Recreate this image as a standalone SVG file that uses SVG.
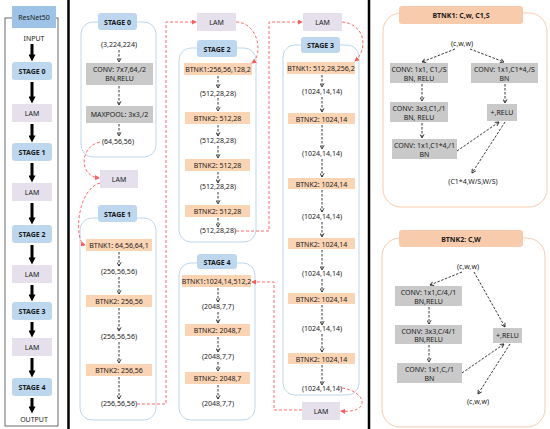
<svg xmlns="http://www.w3.org/2000/svg" width="550" height="429" viewBox="0 0 550 429">
<style>
text{font-family:"Noto Sans","Open Sans","Liberation Sans",sans-serif;font-size:7px;fill:#1a1a1a;text-anchor:middle}
.b{font-weight:bold}
.blue{fill:#bdd7ee}
.lam{fill:#e5e0ec}
.or{fill:#fbd4b4}
.gr{fill:#c9c9c9}
.cont{fill:#fff;stroke:#bdd7ee;stroke-width:1}
.ocont{fill:#fff;stroke:#f8cbad;stroke-width:1}
.da{fill:none;stroke:#222;stroke-width:0.9;stroke-dasharray:2.5,1.5;marker-end:url(#mda)}
.rda{fill:none;stroke:#ff5a5a;stroke-width:0.9;stroke-dasharray:3,2;marker-end:url(#mr)}
.th{fill:none;stroke:#000;stroke-width:3;marker-end:url(#mt)}
</style>
<defs>
<marker id="mda" viewBox="0 0 6 6" refX="5" refY="3" markerWidth="5" markerHeight="5" orient="auto" markerUnits="userSpaceOnUse"><path d="M0.5,0.5 L5,3 L0.5,5.5" fill="none" stroke="#222" stroke-width="1"/></marker>
<marker id="mr" viewBox="0 0 6 6" refX="5" refY="3" markerWidth="5" markerHeight="5" orient="auto" markerUnits="userSpaceOnUse"><path d="M0,0 L6,3 L0,6 z" fill="#ff5a5a"/></marker>
<marker id="mt" viewBox="0 0 6 6" refX="3" refY="3" markerWidth="8" markerHeight="7" orient="auto" markerUnits="userSpaceOnUse"><path d="M0,0 L6,3 L0,6 z" fill="#000"/></marker>
</defs>
<rect width="550" height="429" fill="#fff"/>

<line x1="68.5" y1="0" x2="68.5" y2="429" stroke="#000" stroke-width="2.5"/>
<line x1="369" y1="0" x2="369" y2="429" stroke="#000" stroke-width="2.5"/>

<g id="left-panel">
<rect x="5" y="18" width="53" height="408" fill="#fff" stroke="#444" stroke-width="0.8"/>
<rect x="12" y="6" width="44" height="22" fill="#9dc3e6"/>
<text x="34" y="20">ResNet50</text>
<text x="34" y="41">INPUT</text>
</g>
<g id="connectors-left">
<path class="th" d="M32,44 V58"/>
<path class="th" d="M32,82 V100"/>
<path class="th" d="M32,124 V139"/>
<path class="th" d="M32,163 V179"/>
<path class="th" d="M32,203 V221"/>
<path class="th" d="M32,245 V261"/>
<path class="th" d="M32,285 V298"/>
<path class="th" d="M32,322 V334"/>
<path class="th" d="M32,358 V374"/>
<path class="th" d="M32,398 V410"/>
</g>
<g id="l-stage0"><rect class="blue" x="12" y="62" width="40" height="18" rx="3"/><text class="b" x="32" y="74">STAGE 0</text></g>
<g id="l-lam0"><rect class="lam" x="12" y="104" width="40" height="18"/><text x="32" y="116">LAM</text></g>
<g id="l-stage1"><rect class="blue" x="12" y="143" width="40" height="18" rx="3"/><text class="b" x="32" y="155">STAGE 1</text></g>
<g id="l-lam1"><rect class="lam" x="12" y="183" width="40" height="18"/><text x="32" y="195">LAM</text></g>
<g id="l-stage2"><rect class="blue" x="12" y="225" width="40" height="18" rx="3"/><text class="b" x="32" y="237">STAGE 2</text></g>
<g id="l-lam2"><rect class="lam" x="12" y="265" width="40" height="18"/><text x="32" y="277">LAM</text></g>
<g id="l-stage3"><rect class="blue" x="12" y="302" width="40" height="18" rx="3"/><text class="b" x="32" y="314">STAGE 3</text></g>
<g id="l-lam3"><rect class="lam" x="12" y="338" width="40" height="18"/><text x="32" y="350">LAM</text></g>
<g id="l-stage4"><rect class="blue" x="12" y="378" width="40" height="18" rx="3"/><text class="b" x="32" y="390">STAGE 4</text></g>
<text x="34" y="422">OUTPUT</text>

<g id="stage0">
<rect class="cont" x="81" y="22" width="75" height="135" rx="12"/>
<rect class="blue" x="98" y="13" width="39" height="17" rx="3"/>
<text class="b" x="117.5" y="24.5">STAGE 0</text>
<text x="119" y="47">(3,224,224)</text>
<rect class="gr" x="86" y="63" width="67" height="22"/>
<text x="119.5" y="72">CONV: 7x7,64,/2</text>
<text x="119.5" y="81">BN,RELU</text>
<rect class="gr" x="86" y="106" width="67" height="17"/>
<text x="119.5" y="117">MAXPOOL: 3x3,/2</text>
<text x="118" y="144">(64,56,56)</text>
</g>
<g id="lam-s1"><rect class="lam" x="100" y="170" width="38" height="18"/><text x="119" y="182">LAM</text></g>

<g id="stage1">
<rect class="cont" x="80" y="218" width="76" height="202" rx="12"/>
<rect class="blue" x="98" y="205" width="39" height="17" rx="3"/>
<text class="b" x="117.5" y="216.5">STAGE 1</text>
<rect class="or" x="86" y="239" width="66" height="12"/>
<text x="119" y="248">BTNK1: 64,56,64,1</text>
<text x="119" y="274">(256,56,56)</text>
<rect class="or" x="86" y="295" width="66" height="12"/>
<text x="119" y="304">BTNK2: 256,56</text>
<text x="119" y="339">(256,56,56)</text>
<rect class="or" x="86" y="364" width="66" height="12"/>
<text x="119" y="373">BTNK2: 256,56</text>
<text x="119" y="406">(256,56,56)</text>
</g>

<g id="lam-s2"><rect class="lam" x="197" y="13" width="39" height="18"/><text x="216.5" y="25">LAM</text></g>

<g id="stage2">
<rect class="cont" x="179" y="48" width="77" height="194" rx="12"/>
<rect class="blue" x="197" y="40" width="40" height="17" rx="3"/>
<text class="b" x="217" y="51.5">STAGE 2</text>
<rect class="or" x="184" y="63" width="68" height="12"/>
<text x="218" y="72">BTNK1:256,56,128,2</text>
<text x="218" y="96">(512,28,28)</text>
<rect class="or" x="185" y="112" width="65" height="12"/>
<text x="217.5" y="121">BTNK2: 512,28</text>
<text x="218" y="143">(512,28,28)</text>
<rect class="or" x="185" y="159" width="65" height="12"/>
<text x="217.5" y="168">BTNK2: 512,28</text>
<text x="218" y="189">(512,28,28)</text>
<rect class="or" x="185" y="205" width="65" height="12"/>
<text x="217.5" y="214">BTNK2: 512,28</text>
<text x="218" y="233">(512,28,28)</text>
</g>

<g id="lam-s3"><rect class="lam" x="303" y="13" width="39" height="18"/><text x="322.5" y="25">LAM</text></g>

<g id="stage3">
<rect class="cont" x="283" y="45" width="76" height="350" rx="12"/>
<rect class="blue" x="301" y="37" width="39" height="16" rx="3"/>
<text class="b" x="320.5" y="48">STAGE 3</text>
<rect class="or" x="287" y="62" width="68" height="12"/>
<text x="321" y="71">BTNK1: 512,28,256,2</text>
<text x="322" y="94">(1024,14,14)</text>
<rect class="or" x="288" y="113" width="67" height="11"/>
<text x="321.5" y="121.5">BTNK2: 1024,14</text>
<text x="322" y="156">(1024,14,14)</text>
<rect class="or" x="288" y="178" width="67" height="11"/>
<text x="321.5" y="186.5">BTNK2: 1024,14</text>
<text x="322" y="219">(1024,14,14)</text>
<rect class="or" x="288" y="238" width="67" height="11"/>
<text x="321.5" y="246.5">BTNK2: 1024,14</text>
<text x="322" y="276">(1024,14,14)</text>
<rect class="or" x="288" y="293" width="67" height="11"/>
<text x="321.5" y="301.5">BTNK2: 1024,14</text>
<text x="322" y="331">(1024,14,14)</text>
<rect class="or" x="288" y="353" width="67" height="11"/>
<text x="321.5" y="361.5">BTNK2: 1024,14</text>
<text x="322" y="391">(1024,14,14)</text>
</g>

<g id="lam-s4"><rect class="lam" x="302" y="402" width="38" height="18"/><text x="321" y="414">LAM</text></g>

<g id="stage4">
<rect class="cont" x="179" y="263" width="76" height="157" rx="12"/>
<rect class="blue" x="197" y="254" width="40" height="15" rx="3"/>
<text class="b" x="217" y="264.5">STAGE 4</text>
<rect class="or" x="182" y="275" width="69" height="12"/>
<text x="216.5" y="284">BTNK1:1024,14,512,2</text>
<text x="218" y="309">(2048,7,7)</text>
<rect class="or" x="185" y="324" width="65" height="12"/>
<text x="217.5" y="333">BTNK2: 2048,7</text>
<text x="218" y="359">(2048,7,7)</text>
<rect class="or" x="185" y="372" width="65" height="12"/>
<text x="217.5" y="381">BTNK2: 2048,7</text>
<text x="218" y="406">(2048,7,7)</text>
</g>

<g id="btnk1-detail">
<rect class="ocont" x="383" y="13" width="164" height="194" rx="18"/>
<rect fill="#f8cbad" x="399" y="6" width="124" height="18" rx="3"/>
<text class="b" x="461" y="18">BTNK1: C,w, C1,S</text>
<text x="462" y="46">(c,w,w)</text>
<rect class="gr" x="390" y="63" width="58" height="20"/>
<text x="419" y="72">CONV: 1x1, C1,/S</text>
<text x="419" y="81">BN, RELU</text>
<rect class="gr" x="471" y="63" width="67" height="20"/>
<text x="504.5" y="72">CONV: 1x1,C1*4,/S</text>
<text x="504.5" y="81">BN</text>
<rect class="gr" x="390" y="102" width="58" height="20"/>
<text x="419" y="111">CONV: 3x3,C1,/1</text>
<text x="419" y="120">BN, RELU</text>
<rect class="gr" x="487" y="104" width="30" height="17"/>
<text x="502" y="115">+,RELU</text>
<rect class="gr" x="392" y="139" width="65" height="20"/>
<text x="424.5" y="148">CONV: 1x1,C1*4,/1</text>
<text x="424.5" y="157">BN</text>
<text x="473" y="184">(C1*4,W/S,W/S)</text>
</g>

<g id="btnk2-detail">
<rect class="ocont" x="382" y="238" width="163" height="189" rx="18"/>
<rect fill="#f8cbad" x="399" y="230" width="124" height="17" rx="3"/>
<text class="b" x="461" y="241.5">BTNK2: C,W</text>
<text x="468" y="269">(c,w,w)</text>
<rect class="gr" x="395" y="286" width="67" height="20"/>
<text x="428.5" y="295">CONV: 1x1,C/4,/1</text>
<text x="428.5" y="304">BN,RELU</text>
<rect class="gr" x="395" y="325" width="67" height="19"/>
<text x="428.5" y="334">CONV: 3x3,C/4/1</text>
<text x="428.5" y="342">BN,RELU</text>
<rect class="gr" x="397" y="363" width="65" height="20"/>
<text x="429.5" y="372">CONV: 1x1,C,/1</text>
<text x="429.5" y="381">BN</text>
<rect class="gr" x="493" y="328" width="29" height="15"/>
<text x="507.5" y="338">+,RELU</text>
<text x="478" y="404">(c,w,w)</text>
</g>

<g id="connectors">
<path class="da" d="M119,50 V62"/>
<path class="da" d="M119,86 V105"/>
<path class="da" d="M119,124 V136"/>
<path class="da" d="M119,252 V266"/>
<path class="da" d="M119,277 V294"/>
<path class="da" d="M119,308 V331"/>
<path class="da" d="M119,342 V363"/>
<path class="da" d="M119,377 V399"/>
<path class="da" d="M218,76 V88"/>
<path class="da" d="M218,98 V111"/>
<path class="da" d="M218,125 V136"/>
<path class="da" d="M218,146 V158"/>
<path class="da" d="M218,172 V183"/>
<path class="da" d="M218,192 V204"/>
<path class="da" d="M218,218 V227"/>
<path class="da" d="M322,75 V87"/>
<path class="da" d="M322,97 V112"/>
<path class="da" d="M322,125 V149"/>
<path class="da" d="M322,159 V177"/>
<path class="da" d="M322,190 V212"/>
<path class="da" d="M322,222 V237"/>
<path class="da" d="M322,250 V270"/>
<path class="da" d="M322,279 V292"/>
<path class="da" d="M322,305 V325"/>
<path class="da" d="M322,334 V352"/>
<path class="da" d="M322,365 V385"/>
<path class="da" d="M218,288 V302"/>
<path class="da" d="M218,312 V323"/>
<path class="da" d="M218,337 V352"/>
<path class="da" d="M218,362 V371"/>
<path class="da" d="M218,385 V399"/>
<path class="da" d="M455,49 L422,62"/>
<path class="da" d="M470,49 L504,62"/>
<path class="da" d="M422,84 V101"/>
<path class="da" d="M422,123 V138"/>
<path class="da" d="M505,84 V103"/>
<path class="da" d="M457,151 L499,122"/>
<path class="da" d="M505,122 L472,173"/>
<path class="da" d="M462,272 L430,285"/>
<path class="da" d="M474,272 L505,327"/>
<path class="da" d="M429,307 V324"/>
<path class="da" d="M429,345 V362"/>
<path class="da" d="M462,373 L504,344"/>
<path class="da" d="M510,344 L478,394"/>
<path class="rda" d="M100,142 C80,146 78,176 99,178"/>
<path class="rda" d="M100,183 C76,190 74,242 85,245"/>
<path class="rda" d="M137,404 H166 V22 H196"/>
<path class="rda" d="M236,22 C258,22 264,55 252,63"/>
<path class="rda" d="M236,231 H269 V22 H302"/>
<path class="rda" d="M342,22 C366,24 368,50 355,61"/>
<path class="rda" d="M342,388 C368,392 370,414 341,411"/>
<path class="rda" d="M302,410 H274 V282 H252"/>
</g>
</svg>
